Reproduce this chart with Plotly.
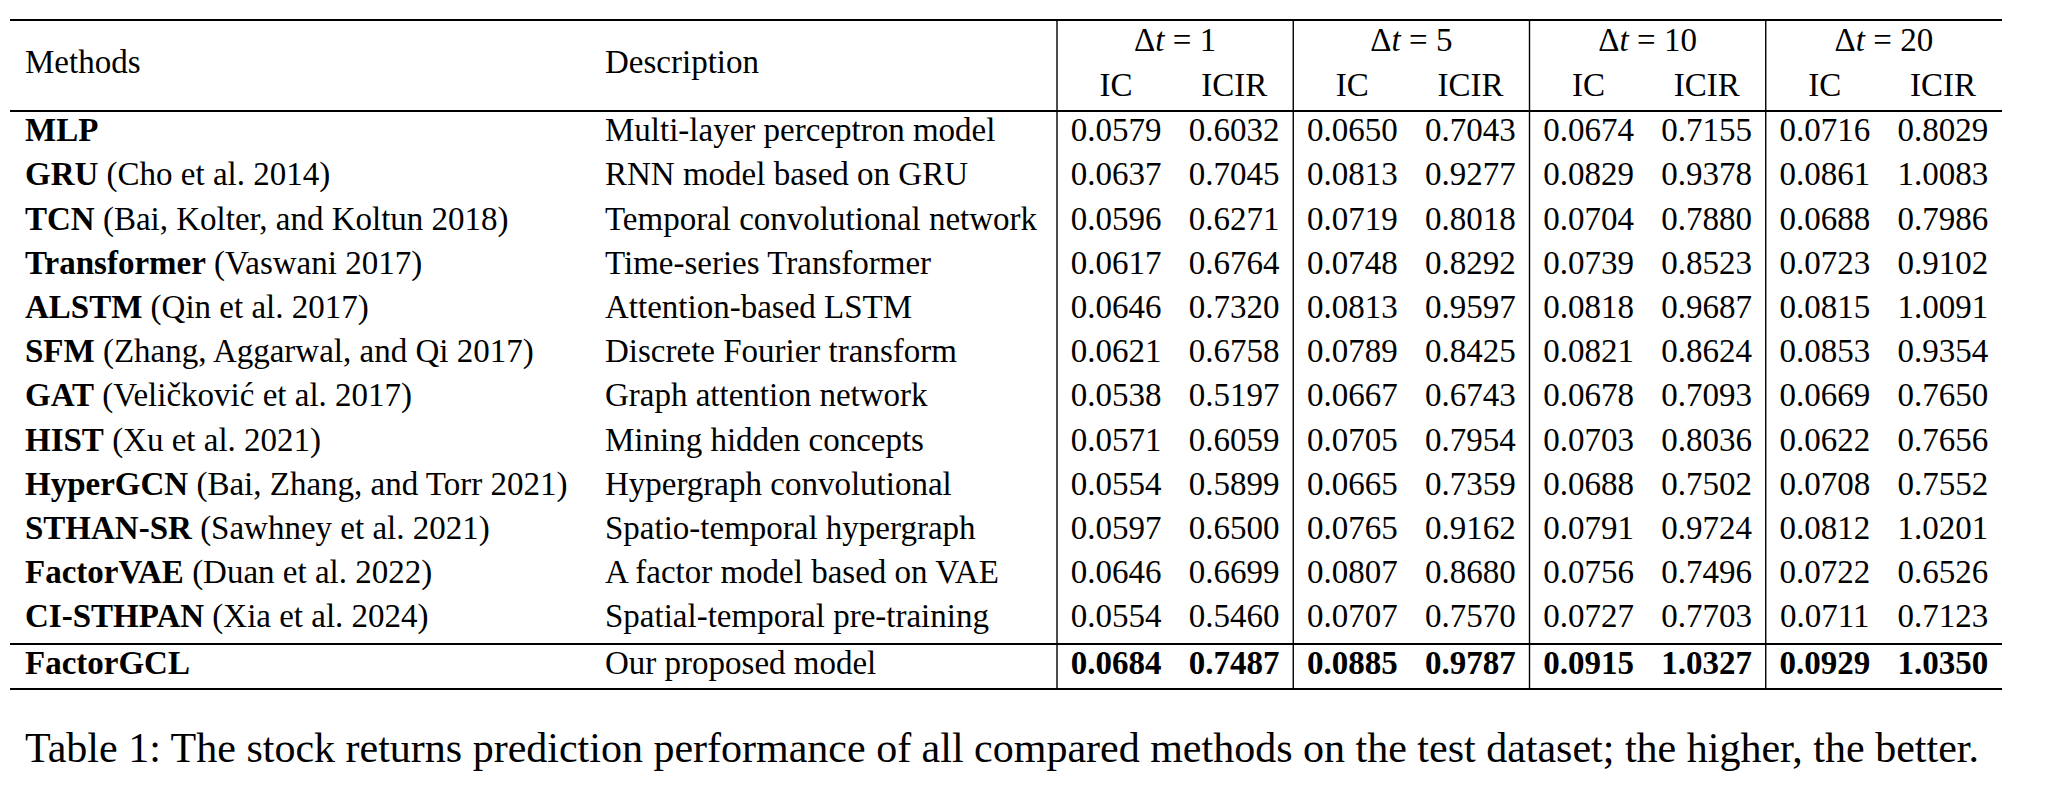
import plotly.graph_objects as go

# ---- table data ----
methods = ["MLP", "GRU", "TCN", "Transformer", "ALSTM", "SFM", "GAT", "HIST",
           "HyperGCN", "STHAN-SR", "FactorVAE", "CI-STHPAN", "FactorGCL"]
citations = ["", "(Cho et al. 2014)", "(Bai, Kolter, and Koltun 2018)", "(Vaswani 2017)",
             "(Qin et al. 2017)", "(Zhang, Aggarwal, and Qi 2017)", "(Veličković et al. 2017)",
             "(Xu et al. 2021)", "(Bai, Zhang, and Torr 2021)", "(Sawhney et al. 2021)",
             "(Duan et al. 2022)", "(Xia et al. 2024)", ""]
descriptions = ["Multi-layer perceptron model", "RNN model based on GRU",
                "Temporal convolutional network", "Time-series Transformer",
                "Attention-based LSTM", "Discrete Fourier transform",
                "Graph attention network", "Mining hidden concepts",
                "Hypergraph convolutional", "Spatio-temporal hypergraph",
                "A factor model based on VAE", "Spatial-temporal pre-training",
                "Our proposed model"]

horizons = ["1", "5", "10", "20"]
metrics = ["IC", "ICIR"]

ic_1 = [0.0579, 0.0637, 0.0596, 0.0617, 0.0646, 0.0621, 0.0538, 0.0571, 0.0554, 0.0597, 0.0646, 0.0554, 0.0684]
icir_1 = [0.6032, 0.7045, 0.6271, 0.6764, 0.7320, 0.6758, 0.5197, 0.6059, 0.5899, 0.6500, 0.6699, 0.5460, 0.7487]
ic_5 = [0.0650, 0.0813, 0.0719, 0.0748, 0.0813, 0.0789, 0.0667, 0.0705, 0.0665, 0.0765, 0.0807, 0.0707, 0.0885]
icir_5 = [0.7043, 0.9277, 0.8018, 0.8292, 0.9597, 0.8425, 0.6743, 0.7954, 0.7359, 0.9162, 0.8680, 0.7570, 0.9787]
ic_10 = [0.0674, 0.0829, 0.0704, 0.0739, 0.0818, 0.0821, 0.0678, 0.0703, 0.0688, 0.0791, 0.0756, 0.0727, 0.0915]
icir_10 = [0.7155, 0.9378, 0.7880, 0.8523, 0.9687, 0.8624, 0.7093, 0.8036, 0.7502, 0.9724, 0.7496, 0.7703, 1.0327]
ic_20 = [0.0716, 0.0861, 0.0688, 0.0723, 0.0815, 0.0853, 0.0669, 0.0622, 0.0708, 0.0812, 0.0722, 0.0711, 0.0929]
icir_20 = [0.8029, 1.0083, 0.7986, 0.9102, 1.0091, 0.9354, 0.7650, 0.7656, 0.7552, 1.0201, 0.6526, 0.7123, 1.0350]

caption = ("Table 1: The stock returns prediction performance of all compared methods "
           "on the test dataset; the higher, the better.")

# ---- layout geometry (page pixels; the page body has an 8px margin) ----
W, H, PAD = 2048, 797, 8
FONT = "Liberation Serif, Times New Roman, serif"
FS = 33
CAP_FS = 42
LEFT, RIGHT = 10, 2002
X_METHOD, X_DESC = 25, 605
X_GROUP0 = 1057
GROUP_W = (RIGHT - X_GROUP0) / 4
Y_TOP, Y_HEAD, Y_MID, Y_BOT = 20, 111, 644, 689
Y_DT, Y_SUB, Y_HEADMID = 43, 88, 65
Y_ROW0, ROW_H = 133, 44.2
Y_LAST = 666
Y_CAP = 751

n = len(methods)
row_y = [Y_ROW0 + i * ROW_H for i in range(n - 1)] + [Y_LAST]
columns = [ic_1, icir_1, ic_5, icir_5, ic_10, icir_10, ic_20, icir_20]

fig = go.Figure()

def add_text(xs, ys, texts, pos, size=FS):
    fig.add_trace(go.Scatter(
        x=xs, y=ys, text=texts, mode="text", textposition=pos,
        marker=dict(size=0),
        textfont=dict(family=FONT, size=size, color="black"),
        hoverinfo="skip", showlegend=False))

# header
add_text([X_METHOD, X_DESC], [Y_HEADMID, Y_HEADMID], ["Methods", "Description"], "middle right")
add_text([X_GROUP0 + GROUP_W * (k + 0.5) for k in range(4)], [Y_DT] * 4,
         ["Δ<i>t</i> = " + h for h in horizons], "middle center")
sub_x = [X_GROUP0 + GROUP_W * (k / 2 + 0.25) for k in range(8)]
add_text(sub_x, [Y_SUB] * 8, [metrics[k % 2] for k in range(8)], "middle center")

# body
method_txt = [f"<b>{m}</b> {c}".strip() for m, c in zip(methods, citations)]
add_text([X_METHOD] * n, row_y, method_txt, "middle right")
add_text([X_DESC] * n, row_y, descriptions, "middle right")
for k, col in enumerate(columns):
    txt = [f"{v:.4f}" for v in col]
    txt[-1] = f"<b>{txt[-1]}</b>"
    add_text([sub_x[k]] * n, row_y, txt, "middle center")

# caption
add_text([X_METHOD], [Y_CAP], [caption], "middle right", size=CAP_FS)

# rules
for y, w in [(Y_TOP, 2.2), (Y_HEAD, 2.0), (Y_MID, 2.0), (Y_BOT, 2.2)]:
    fig.add_shape(type="line", x0=LEFT, x1=RIGHT, y0=y, y1=y,
                  line=dict(color="black", width=w))
for k in range(4):
    x = X_GROUP0 + GROUP_W * k
    fig.add_shape(type="line", x0=x, x1=x, y0=Y_TOP, y1=Y_BOT,
                  line=dict(color="black", width=1.4))

fig.update_xaxes(range=[PAD, W], visible=False, fixedrange=True)
fig.update_yaxes(range=[H, PAD], visible=False, fixedrange=True)
fig.update_layout(width=W - PAD, height=H - PAD, margin=dict(l=0, r=0, t=0, b=0),
                  plot_bgcolor="white", paper_bgcolor="white")

fig.write_html("out.html")
